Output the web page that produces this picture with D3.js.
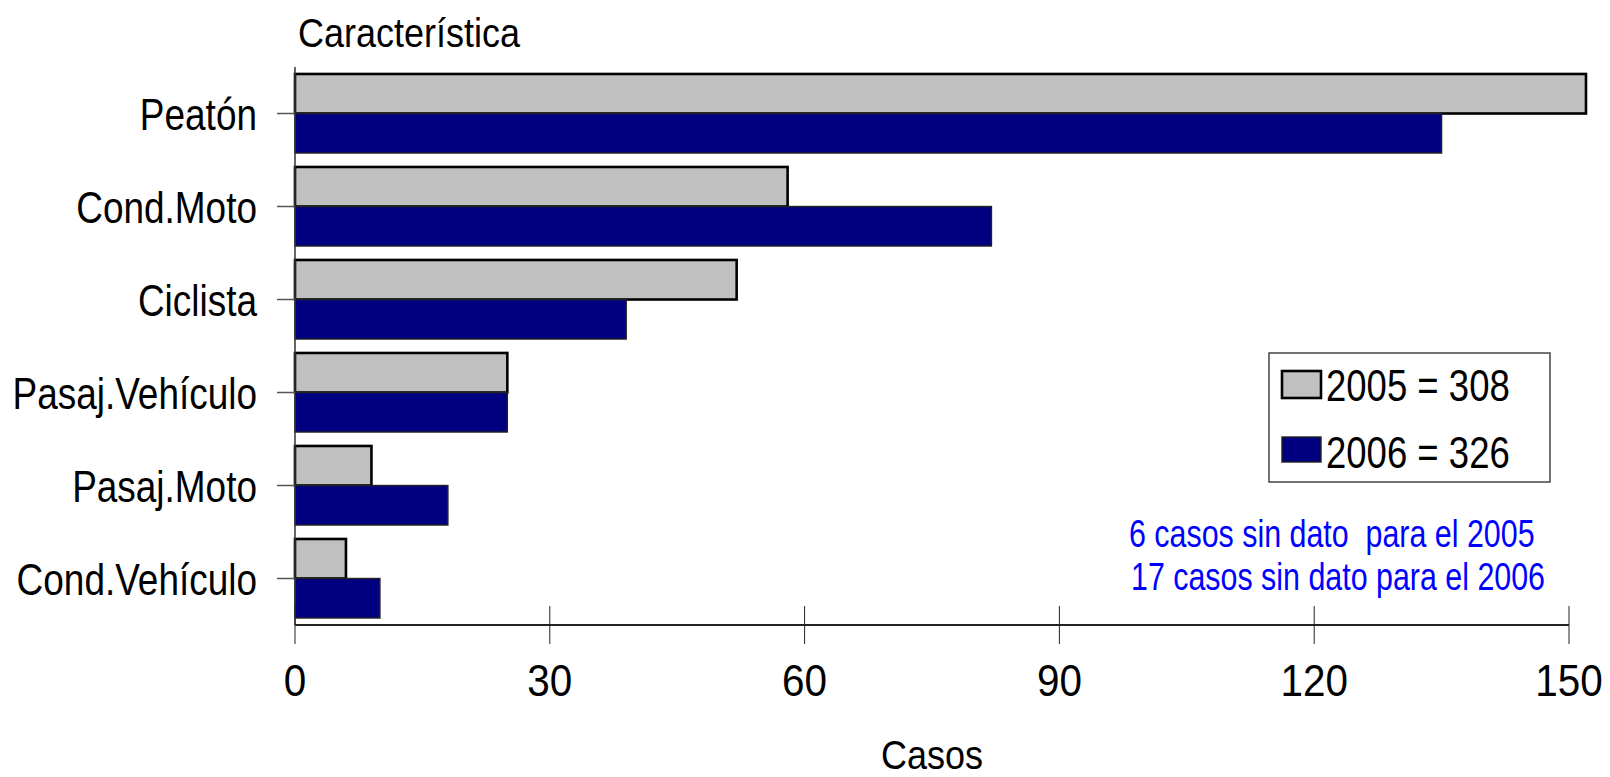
<!DOCTYPE html>
<html>
<head>
<meta charset="utf-8">
<script src="https://cdn.jsdelivr.net/npm/d3@7"></script>
<style>
  html, body { margin: 0; padding: 0; background: #fff; }
  svg { display: block; font-family: "Liberation Sans", Arial, sans-serif; }
  text { white-space: pre; }
</style>
</head>
<body>
<svg id="chart" width="1610" height="777"></svg>
<script>
const categories = ["Peatón", "Cond.Moto", "Ciclista", "Pasaj.Vehículo", "Pasaj.Moto", "Cond.Vehículo"];
const values2005 = [152, 58, 52, 25, 9, 6];
const values2006 = [135, 82, 39, 25, 18, 10];
const seriesNames = ["2005 = 308", "2006 = 326"];
const xTicks = [0, 30, 60, 90, 120, 150];
const notes = ["6 casos sin dato  para el 2005", "17 casos sin dato para el 2006"];

const svg = d3.select("#chart");

const x = d3.scaleLinear().domain([0, 150]).range([295, 1569]);
const y = d3.scaleBand().domain(categories).range([67, 625]).paddingInner(0.15).paddingOuter(0.075);
const sub = d3.scaleBand().domain([0, 1]).range([0, y.bandwidth()]);

const colors = ["#c0c0c0", "#000080"];
const strokes = ["#000", "#222"];
const strokeW = [2.6, 1.4];

function stretchText(sel, sx) {
  sel.each(function() {
    const t = d3.select(this);
    const tx = +t.attr("data-x"), ty = +t.attr("data-y");
    t.attr("transform", `translate(${tx},${ty}) scale(${sx},1)`);
  });
}

// bars
const series = [values2005, values2006];
series.forEach((vals, si) => {
  svg.append("g").selectAll("rect")
    .data(categories.map((c, i) => ({ c, v: vals[i] })))
    .join("rect")
    .attr("x", x(0))
    .attr("y", d => y(d.c) + sub(si))
    .attr("width", d => x(d.v) - x(0))
    .attr("height", sub.bandwidth())
    .attr("fill", colors[si])
    .attr("stroke", strokes[si])
    .attr("stroke-width", strokeW[si]);
});

// y axis
const yAxisG = svg.append("g");
yAxisG.append("line")
  .attr("x1", x(0)).attr("x2", x(0))
  .attr("y1", 67).attr("y2", 625)
  .attr("stroke", "#333").attr("stroke-width", 1.5);
yAxisG.selectAll("line.tick")
  .data(categories).join("line").attr("class", "tick")
  .attr("x1", x(0) - 18).attr("x2", x(0))
  .attr("y1", d => y(d) + y.bandwidth() / 2)
  .attr("y2", d => y(d) + y.bandwidth() / 2)
  .attr("stroke", "#555").attr("stroke-width", 1.5);
yAxisG.selectAll("text")
  .data(categories).join("text")
  .attr("data-x", 257)
  .attr("data-y", d => y(d) + y.bandwidth() / 2 + 16)
  .attr("text-anchor", "end")
  .attr("font-size", 44)
  .attr("fill", "#000")
  .text(d => d)
  .call(stretchText, 0.84);

// x axis
const xAxisG = svg.append("g");
xAxisG.append("line")
  .attr("x1", x(0)).attr("x2", x(150))
  .attr("y1", 625).attr("y2", 625)
  .attr("stroke", "#222").attr("stroke-width", 2);
xAxisG.selectAll("line.tick")
  .data(xTicks).join("line").attr("class", "tick")
  .attr("x1", d => x(d)).attr("x2", d => x(d))
  .attr("y1", 606).attr("y2", 644)
  .attr("stroke", "#222").attr("stroke-width", 1);
xAxisG.selectAll("text")
  .data(xTicks).join("text")
  .attr("data-x", d => x(d))
  .attr("data-y", 696)
  .attr("text-anchor", "middle")
  .attr("font-size", 44)
  .attr("fill", "#000")
  .text(d => d)
  .call(stretchText, 0.92);

// titles
svg.append("text")
  .attr("data-x", 298).attr("data-y", 47)
  .attr("font-size", 40)
  .text("Característica")
  .call(stretchText, 0.9);
svg.append("text")
  .attr("data-x", 932).attr("data-y", 769)
  .attr("text-anchor", "middle")
  .attr("font-size", 40)
  .text("Casos")
  .call(stretchText, 0.9);

// legend
const lg = svg.append("g");
lg.append("rect")
  .attr("x", 1269).attr("y", 353)
  .attr("width", 281).attr("height", 129)
  .attr("fill", "#fff").attr("stroke", "#444").attr("stroke-width", 1.5);
const legendY = [371, 437];
seriesNames.forEach((name, i) => {
  lg.append("rect")
    .attr("x", 1282).attr("y", legendY[i])
    .attr("width", 39).attr("height", i === 0 ? 27 : 25)
    .attr("fill", colors[i])
    .attr("stroke", strokes[i]).attr("stroke-width", strokeW[i]);
  lg.append("text")
    .attr("data-x", 1326).attr("data-y", legendY[i] + 30 + (i === 0 ? 0 : 1))
    .attr("font-size", 44)
    .text(name)
    .call(stretchText, 0.83);
});

// notes
svg.append("g").selectAll("text")
  .data(notes).join("text")
  .attr("data-x", (d, i) => 1129 + i * 2)
  .attr("data-y", (d, i) => 547 + i * 43)
  .attr("font-size", 38)
  .attr("fill", "#0000ff")
  .text(d => d)
  .call(stretchText, 0.8);
</script>
</body>
</html>
